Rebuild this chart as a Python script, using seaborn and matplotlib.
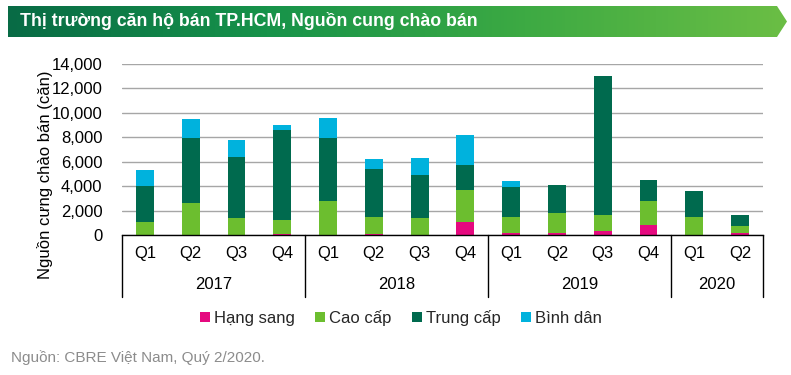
import numpy as np
import pandas as pd
import seaborn as sns
import matplotlib
matplotlib.use("Agg")
import matplotlib.pyplot as plt
from matplotlib.patches import Patch, Polygon
from matplotlib.colors import LinearSegmentedColormap
import matplotlib.transforms as mtransforms
from matplotlib import font_manager

# ---------------- data ----------------
years = ["2017", "2018", "2019", "2020"]
quarters_per_year = [4, 4, 4, 2]
quarters = ["Q1", "Q2", "Q3", "Q4", "Q1", "Q2", "Q3", "Q4",
            "Q1", "Q2", "Q3", "Q4", "Q1", "Q2"]
hang_sang = [0, 0, 0, 100, 0, 100, 0, 1070, 190, 190, 330, 820, 0, 165]
cao_cap = [1070, 2625, 1395, 1130, 2790, 1400, 1395, 2620, 1285, 1610, 1310, 1970, 1475, 575]
trung_cap = [2950, 5335, 5005, 7330, 5170, 3915, 3525, 2050, 2465, 2300, 11400, 1720, 2135, 900]
binh_dan = [1310, 1555, 1395, 465, 1640, 820, 1395, 2460, 490, 0, 0, 0, 0, 0]
series_names = ["Hạng sang", "Cao cấp", "Trung cấp", "Bình dân"]
series_colors = ["#E5097F", "#6CBE2F", "#006A4E", "#00B2DD"]

title = "Thị trường căn hộ bán TP.HCM, Nguồn cung chào bán"
ylabel = "Nguồn cưng chào bán (căn)"
source = "Nguồn: CBRE Việt Nam, Quý 2/2020."

# ---------------- build table ----------------
year_of = [y for y, n in zip(years, quarters_per_year) for _ in range(n)]
periods = [f"{y} {q}" for y, q in zip(year_of, quarters)]
df = pd.DataFrame({"period": periods, "Hạng sang": hang_sang, "Cao cấp": cao_cap,
                   "Trung cấp": trung_cap, "Bình dân": binh_dan})

sns.set_theme(style="white")
plt.rcParams["font.family"] = ["Liberation Sans", "DejaVu Sans"]

installed = {f.name for f in font_manager.fontManager.ttflist}
narrow = "Liberation Sans Narrow" if "Liberation Sans Narrow" in installed else "Liberation Sans"

W, H = 791, 375
fig = plt.figure(figsize=(W / 100, H / 100), dpi=100)
fig.patch.set_facecolor("white")

ax_l, ax_r, ax_b, ax_t = 122, 763, 235, 64
ax = fig.add_axes([ax_l / W, 1 - ax_b / H, (ax_r - ax_l) / W, (ax_b - ax_t) / H])

# stacked bars: draw cumulative totals from largest to smallest
for i in range(len(series_names), 0, -1):
    cum = df[series_names[:i]].sum(axis=1)
    sns.barplot(x=df["period"], y=cum, color=series_colors[i - 1], saturation=1,
                width=0.39, linewidth=0, ax=ax, order=periods)

FS = 12
ax.set_ylim(0, 14000)
ax.set_xlim(-0.5, len(periods) - 0.5)
ax.set_yticks(np.arange(0, 14001, 2000))
ax.set_yticklabels([f"{v:,}" for v in range(0, 14001, 2000)], fontsize=FS)
ax.yaxis.grid(True, color="#A6A6A6", linewidth=1)
ax.xaxis.grid(False)
ax.set_axisbelow(True)
ax.tick_params(axis="y", length=0, pad=14, labelcolor="#000000")
ax.set_xticks(range(len(periods)))
ax.set_xticklabels(quarters, fontsize=FS)
ax.tick_params(axis="x", length=0, pad=8, labelcolor="#000000")
ax.set_xlabel("")
ax.set_ylabel("")
for s in ["left", "top", "right"]:
    ax.spines[s].set_visible(False)
ax.spines["bottom"].set_color("black")
ax.spines["bottom"].set_linewidth(1)

# group separators and year labels
trans = mtransforms.blended_transform_factory(ax.transData, ax.transAxes)
bounds = np.concatenate([[0], np.cumsum(quarters_per_year)]) - 0.5
for b in bounds:
    ax.plot([b, b], [0, -0.36], transform=trans, color="black", lw=1, clip_on=False)
for y, lo, hi in zip(years, bounds[:-1], bounds[1:]):
    ax.text((lo + hi) / 2, -0.292, y, transform=trans, ha="center", va="center",
            fontsize=FS, color="black")

fig.text(45 / W, 1 - 175 / H, ylabel, rotation=90, ha="center", va="center",
         fontsize=FS, color="black")

# legend
handles = [Patch(facecolor=c, edgecolor="none") for c in series_colors]
fig.legend(handles, series_names, loc="center", bbox_to_anchor=(401 / W, 1 - 318 / H),
           ncol=4, frameon=False, fontsize=FS, handlelength=0.6, handleheight=0.6,
           handletextpad=0.25, columnspacing=1.2)

# title banner
bx0, bx1, by0, by1 = 8, 787, 6, 37
bax = fig.add_axes([bx0 / W, 1 - by1 / H, (bx1 - bx0) / W, (by1 - by0) / H])
bax.set_xlim(0, bx1 - bx0)
bax.set_ylim(0, by1 - by0)
bax.axis("off")
cmap = LinearSegmentedColormap.from_list("g", ["#086B45", "#17934A", "#3DAA43", "#6BBE45"])
grad = np.linspace(0, 1, 256).reshape(1, -1)
im = bax.imshow(grad, extent=[0, bx1 - bx0, 0, by1 - by0], aspect="auto", cmap=cmap)
bw, bh = bx1 - bx0, by1 - by0
poly = Polygon([[0, 0], [bw - 10, 0], [bw, bh / 2], [bw - 10, bh], [0, bh]],
               closed=True, transform=bax.transData, facecolor="none", edgecolor="none")
bax.add_patch(poly)
im.set_clip_path(poly)
title_fs = 14 if narrow != "Liberation Sans" else 12.8
fig.text(20 / W, 1 - 21 / H, title, ha="left", va="center", fontsize=title_fs,
         fontweight="bold", color="white", family=[narrow, "DejaVu Sans"])

src_fs = 12 if narrow != "Liberation Sans" else 11
fig.text(11 / W, 1 - 358 / H, source, ha="left", va="center", fontsize=src_fs,
         color="#8C8C8C", family=[narrow, "DejaVu Sans"])

fig.savefig("out.png", dpi=100, facecolor="white")
